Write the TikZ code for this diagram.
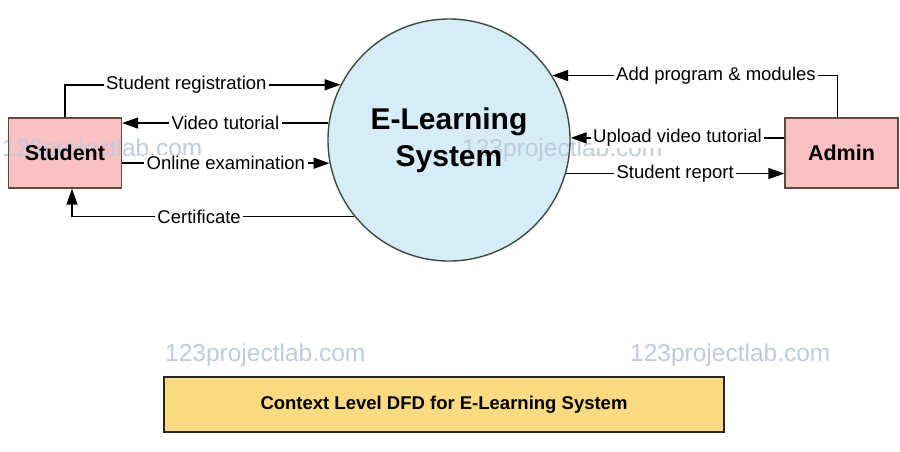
\documentclass[tikz,border=0pt]{standalone}
\usepackage{fontspec}
\setmainfont{Liberation Sans}
\usetikzlibrary{arrows.meta,calc}
\pgfdeclarelayer{background}
\pgfdeclarelayer{wmlayer}
\pgfsetlayers{background,wmlayer,main}
\definecolor{sysblue}{RGB}{214,237,248}
\definecolor{sysline}{RGB}{60,76,64}
\definecolor{entpink}{RGB}{249,193,193}
\definecolor{entline}{RGB}{92,74,60}
\definecolor{capfill}{RGB}{252,219,128}
\definecolor{wmark}{RGB}{192,204,220}
\tikzset{
  entity/.style={draw=entline, line width=1.4pt, minimum width=113pt, minimum height=70pt, inner sep=0pt, font=\fontsize{21.5}{24}\selectfont\bfseries},
  process/.style={circle, draw=sysline, line width=1.4pt, minimum size=242pt, inner sep=0pt, align=center, font=\fontsize{30}{37}\selectfont\bfseries},
  flow/.style={line width=1.5pt, -{Triangle[length=16pt,width=11pt]}},
  flowlabel/.style={fill=white, inner xsep=2.5pt, inner ysep=1pt, font=\fontsize{18.5}{20}\selectfont},
  wm/.style={text=wmark, font=\fontsize{24.5}{26}\selectfont, inner sep=0pt},
  caption/.style={draw=black!85, line width=1.4pt, fill=capfill, minimum width=560pt, minimum height=55pt, inner sep=0pt, font=\fontsize{18.5}{20}\selectfont\bfseries}
}
\begin{document}
\begin{tikzpicture}[x=1pt,y=-1pt]
\useasboundingbox (0,0) rectangle (900,451);

\node[process] (sys) at (449,140) {E-Learning\\System};
\node[entity] (stu) at (65,153) {Student};
\node[entity] (adm) at (841.5,153) {Admin};
\node[caption] (cap) at (444,404.5) {Context Level DFD for E-Learning System};

\begin{pgfonlayer}{background}
  \fill[white] (0,0) rectangle (900,451);
  \fill[sysblue] (sys.center) circle[radius=121pt];
  \fill[entpink] (stu.south west) rectangle (stu.north east);
  \fill[entpink] (adm.south west) rectangle (adm.north east);
\end{pgfonlayer}

% Student side
\draw[flow] (stu.north) |- (sys.153) node[flowlabel, pos=0.72] (l1) {Student registration};
\draw[flow] (sys.172.4) -- (sys.172.4 -| stu.east) node[flowlabel, pos=0.5] (l2) {Video tutorial};
\draw[flow] (sys.191.4 -| stu.east) -- (sys.191.4) node[flowlabel, pos=0.5] (l3) {Online examination};
\coordinate (certend) at ($(stu.south)+(7,0)$);
\draw[flow] (sys.219.5) -| (certend) node[flowlabel, pos=0.275] (l4) {Certificate};

% Admin side
\coordinate (addstart) at ($(adm.north)+(-4,0)$);
\draw[flow] (addstart) |- (sys.32.5) node[flowlabel, pos=0.713] (l5) {Add program \& modules};
\draw[flow] (sys.1.9 -| adm.west) -- (sys.1.9) node[flowlabel, pos=0.5] (l6) {Upload video tutorial};
\draw[flow] (sys.-16.8) -- (sys.-16.8 -| adm.west) node[flowlabel, pos=0.5] (l7) {Student report};

% watermarks
\begin{pgfonlayer}{wmlayer}
  \node[wm, anchor=west] (w1) at (2,150) {123projectlab.com};
  \node[wm, anchor=west] (w2) at (462,150) {123projectlab.com};
  \node[wm, anchor=west] (w3) at (165,355) {123projectlab.com};
  \node[wm, anchor=west] (w4) at (630,355) {123projectlab.com};
\end{pgfonlayer}
\end{tikzpicture}
\end{document}
